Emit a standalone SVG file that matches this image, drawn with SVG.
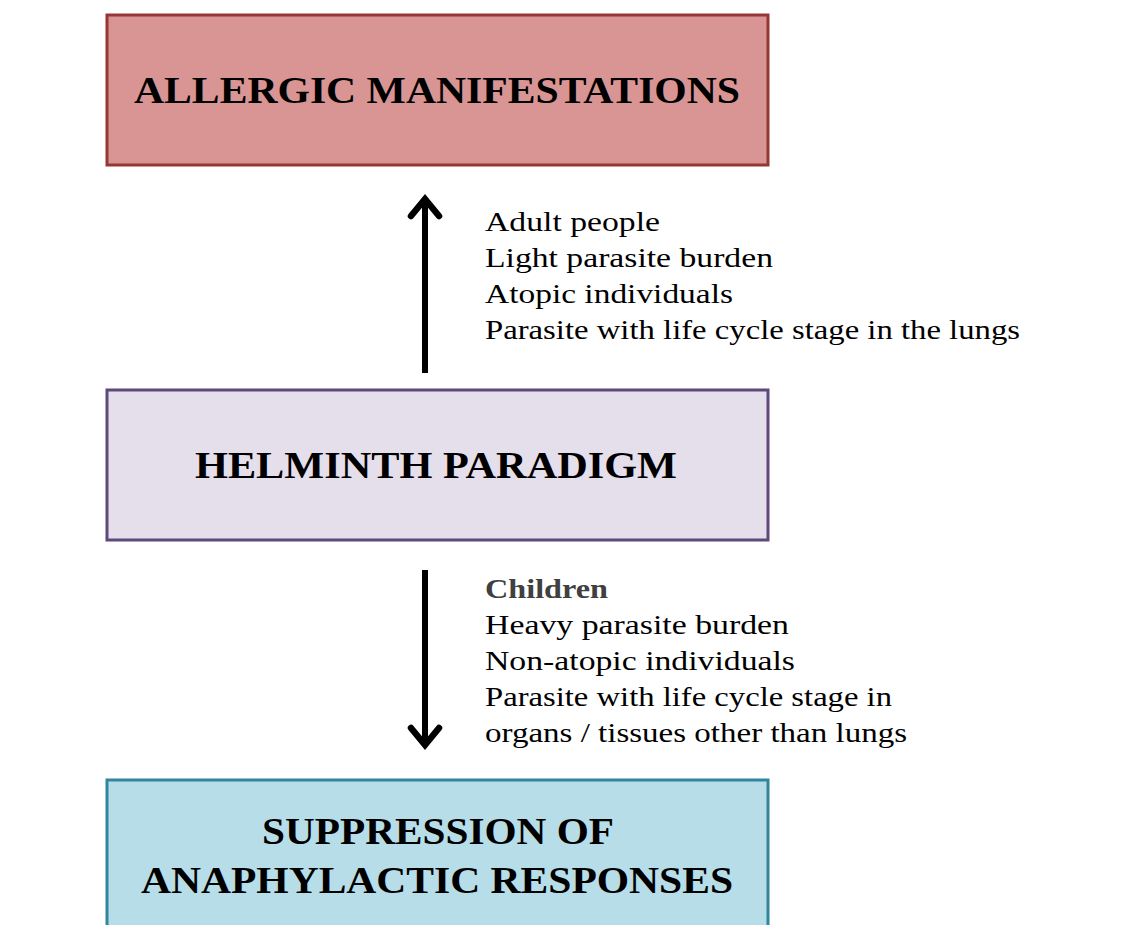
<svg xmlns="http://www.w3.org/2000/svg" width="1138" height="925" viewBox="0 0 1138 925">
<style>
.box{stroke-width:3}
.title{font-family:"Liberation Serif","DejaVu Serif",serif;font-weight:bold;font-size:37px;fill:#000;text-anchor:middle}
.body{font-family:"Liberation Serif","DejaVu Serif",serif;font-size:28px;fill:#000}
.bodybold{font-family:"Liberation Serif","DejaVu Serif",serif;font-size:28px;font-weight:bold;fill:#404040}
.conn{stroke:#000;stroke-width:6;fill:none;stroke-linecap:butt}
.head{stroke:#000;stroke-width:6.5;fill:none;stroke-linecap:round;stroke-linejoin:miter}
</style>
<rect width="1138" height="925" fill="#fff"/>
<g id="allergic">
<rect class="box" x="107" y="15" width="661" height="150" fill="#d99594" stroke="#953735"/>
<text class="title" x="437" y="103" textLength="606" lengthAdjust="spacingAndGlyphs">ALLERGIC MANIFESTATIONS</text>
</g>
<g id="helminth">
<rect class="box" x="107" y="390" width="661" height="150" fill="#e5dfec" stroke="#5f497a"/>
<text class="title" x="436" y="478" textLength="482" lengthAdjust="spacingAndGlyphs">HELMINTH PARADIGM</text>
</g>
<g id="suppression">
<rect class="box" x="107" y="780" width="661" height="160" fill="#b7dde8" stroke="#31859c"/>
<text class="title" x="438" y="844" textLength="352" lengthAdjust="spacingAndGlyphs">SUPPRESSION OF</text>
<text class="title" x="437" y="893" textLength="592" lengthAdjust="spacingAndGlyphs">ANAPHYLACTIC RESPONSES</text>
</g>
<g id="connectors">
<line class="conn" x1="425" y1="373" x2="425" y2="200"/>
<polyline class="head" points="411,216 425,199 439,216"/>
<line class="conn" x1="425" y1="570" x2="425" y2="744"/>
<polyline class="head" points="411,728 425,745 439,728"/>
</g>
<g id="label-up">
<text class="body" x="485" y="231" textLength="175" lengthAdjust="spacingAndGlyphs">Adult people</text>
<text class="body" x="485" y="267" textLength="288" lengthAdjust="spacingAndGlyphs">Light parasite burden</text>
<text class="body" x="485" y="303" textLength="248" lengthAdjust="spacingAndGlyphs">Atopic individuals</text>
<text class="body" x="485" y="339" textLength="535" lengthAdjust="spacingAndGlyphs">Parasite with life cycle stage in the lungs</text>
</g>
<g id="label-down">
<text class="bodybold" x="485" y="598" textLength="123" lengthAdjust="spacingAndGlyphs">Children</text>
<text class="body" x="485" y="634" textLength="304" lengthAdjust="spacingAndGlyphs">Heavy parasite burden</text>
<text class="body" x="485" y="670" textLength="310" lengthAdjust="spacingAndGlyphs">Non-atopic individuals</text>
<text class="body" x="485" y="706" textLength="407" lengthAdjust="spacingAndGlyphs">Parasite with life cycle stage in</text>
<text class="body" x="485" y="742" textLength="422" lengthAdjust="spacingAndGlyphs">organs / tissues other than lungs</text>
</g>
</svg>
